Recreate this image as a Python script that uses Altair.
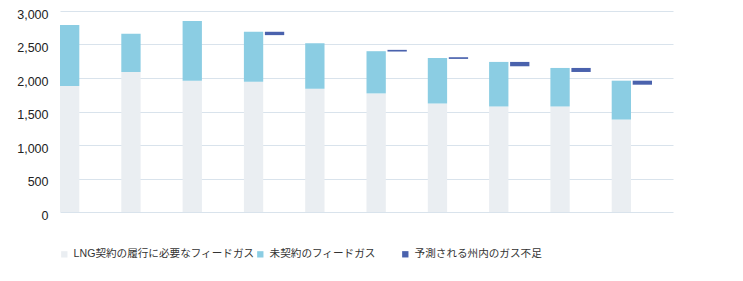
import altair as alt
import pandas as pd

years = [str(i) for i in range(1, 11)]
contracted = [1880, 2090, 1960, 1945, 1840, 1770, 1620, 1575, 1575, 1380]
totals = [2790, 2660, 2850, 2690, 2520, 2400, 2300, 2240, 2150, 1960]
short_idx = [3, 5, 6, 7, 8, 9]
short_lo = [2640, 2395, 2285, 2175, 2090, 1900]
short_hi = [2690, 2420, 2310, 2240, 2150, 1960]
y_ticks = [0, 500, 1000, 1500, 2000, 2500, 3000]

seg_names = ["LNG契約の履行に必要なフィードガス", "未契約のフィードガス"]
short_name = "予測される州内のガス不足"
seg_colors = ["#eaeef2", "#8bcde3"]
short_color = "#4a62ad"

rows = []
for i, y in enumerate(years):
    rows.append({"year": y, "seg": seg_names[0], "lo": 0, "hi": contracted[i], "slot": "a"})
    rows.append({"year": y, "seg": seg_names[1], "lo": contracted[i], "hi": totals[i], "slot": "a"})
df = pd.DataFrame(rows)

sdf = pd.DataFrame({
    "year": [years[i] for i in short_idx],
    "lo": short_lo,
    "hi": short_hi,
    "seg": [short_name] * len(short_idx),
    "slot": ["b"] * len(short_idx),
})

FONT = "Liberation Sans, Noto Sans CJK JP"

xenc = alt.X("year:N", sort=years, axis=None,
             scale=alt.Scale(paddingInner=0, paddingOuter=0))
xoff = alt.XOffset("slot:N", scale=alt.Scale(domain=["a", "b", "c"], paddingInner=0.08, paddingOuter=0))
yscale = alt.Scale(domain=[0, 3000])
yaxis = alt.Axis(values=y_ticks, format=",d", title=None, domain=False, ticks=False,
                 labelPadding=12, labelFontSize=12.5, labelColor="#222222", labelFont=FONT,
                 labelOffset=3, gridColor="#d9e3ec", gridWidth=1)

bars = alt.Chart(df).mark_bar().encode(
    x=xenc,
    xOffset=xoff,
    y=alt.Y("lo:Q", scale=yscale, axis=yaxis),
    y2="hi:Q",
    color=alt.Color("seg:N", scale=alt.Scale(domain=seg_names, range=seg_colors),
                    legend=alt.Legend(title=None, orient="none", legendX=-1, legendY=238,
                                      direction="horizontal", symbolType="square",
                                      symbolSize=40, labelFontSize=10.6, labelFont=FONT,
                                      labelColor="#333333", columnPadding=0,
                                      symbolStrokeWidth=0, labelLimit=400)),
)

short = alt.Chart(sdf).mark_bar().encode(
    x=xenc,
    xOffset=xoff,
    y=alt.Y("lo:Q", scale=yscale, axis=yaxis),
    y2="hi:Q",
    fill=alt.Fill("seg:N", scale=alt.Scale(domain=[short_name], range=[short_color]),
                  legend=alt.Legend(title=None, orient="none", legendX=340, legendY=238,
                                    direction="horizontal", symbolType="square",
                                    symbolSize=40, labelFontSize=10.6, labelFont=FONT,
                                    labelColor="#333333", symbolStrokeWidth=0,
                                    labelLimit=400)),
)

chart = alt.layer(bars, short).properties(
    width=613, height=201,
    padding={"left": 16, "top": 8, "right": 5, "bottom": 5},
    background="white",
).configure_view(stroke=None)

chart.save("out.html", embed_options={"renderer": "svg", "actions": False})
